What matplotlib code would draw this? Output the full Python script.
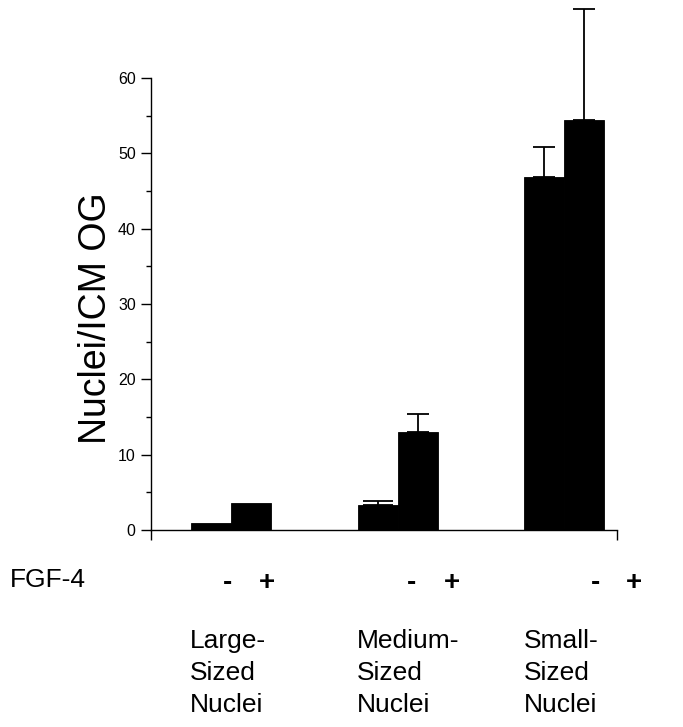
import matplotlib.pyplot as plt
from matplotlib import font_manager

names = {f.name for f in font_manager.fontManager.ttflist}
narrow = "Liberation Sans Narrow" if "Liberation Sans Narrow" in names else "Liberation Sans"
plt.rcParams['font.family'] = ['Liberation Sans', 'DejaVu Sans']

# data
groups = ["Large-\nSized\nNuclei", "Medium-\nSized\nNuclei", "Small-\nSized\nNuclei"]
minus_vals = [0.9, 3.35, 46.8]
plus_vals = [3.55, 12.95, 54.4]
minus_err = [0.0, 0.55, 4.1]
plus_err = [0.0, 2.45, 14.7]
signs = ["-", "+"]

W, H = 683, 727
fig = plt.figure(figsize=(W / 100, H / 100), dpi=100)
ax = fig.add_axes([151 / W, 1 - 530 / H, 466 / W, 527.3 / H])

w = 0.24
xs = list(range(len(groups)))
xm = [x - w / 2 for x in xs]
xp = [x + w / 2 for x in xs]

ax.bar(xm, minus_vals, width=w, color="black", edgecolor="black", linewidth=0.6)
ax.bar(xp, plus_vals, width=w, color="black", edgecolor="black", linewidth=0.6)

# upper error bars only
caps = [0, 11, 8, 0, 8, 8]
for x, v, e, c in zip(xm + xp, minus_vals + plus_vals, minus_err + plus_err, caps):
    if e > 0:
        ax.errorbar(x, v, yerr=[[0], [e]], fmt="none", ecolor="black",
                    elinewidth=1.3, capsize=c, capthick=1.3)

xmin, xmax = -0.48, 2.316
ax.set_xlim(xmin, xmax)
ax.set_ylim(0, 70)

for s in ["top", "right"]:
    ax.spines[s].set_visible(False)
ax.spines["left"].set_bounds(0, 60)
ax.spines["left"].set_linewidth(1.0)
ax.spines["bottom"].set_linewidth(1.0)

ax.set_yticks(range(0, 61, 10))
ax.set_yticks(range(5, 60, 10), minor=True)
ax.tick_params(axis="y", which="major", direction="out", length=7, width=1.0,
               labelsize=11.5, pad=4)
ax.tick_params(axis="y", which="minor", direction="out", length=3.5, width=1.0)
ax.set_xticks([xmin, xmax])
ax.set_xticklabels(["", ""])
ax.tick_params(axis="x", direction="out", length=7, width=1.0)

ax.set_ylabel("Nuclei/ICM OG", fontsize=27)
ax.yaxis.set_label_coords(-0.079, 0.402)

# labels under the axis, placed in figure pixels
def fx(px):
    return px / W

def fy(py):
    return 1 - py / H

fig.text(fx(10), fy(580), "FGF-4", fontsize=19, family=narrow, ha="left", va="center")
sign_x = [(228, 267), (412, 452), (596, 634)]
label_x = [190, 357, 524]
for i in xs:
    for s, px in zip(signs, sign_x[i]):
        fig.text(fx(px), fy(583), s, fontsize=20, family=narrow,
                 fontweight="bold", ha="center", va="center")
    fig.text(fx(label_x[i]), fy(673), groups[i], fontsize=19, family=narrow,
             ha="left", va="center", linespacing=1.4)

fig.savefig("out.png", dpi=100)
